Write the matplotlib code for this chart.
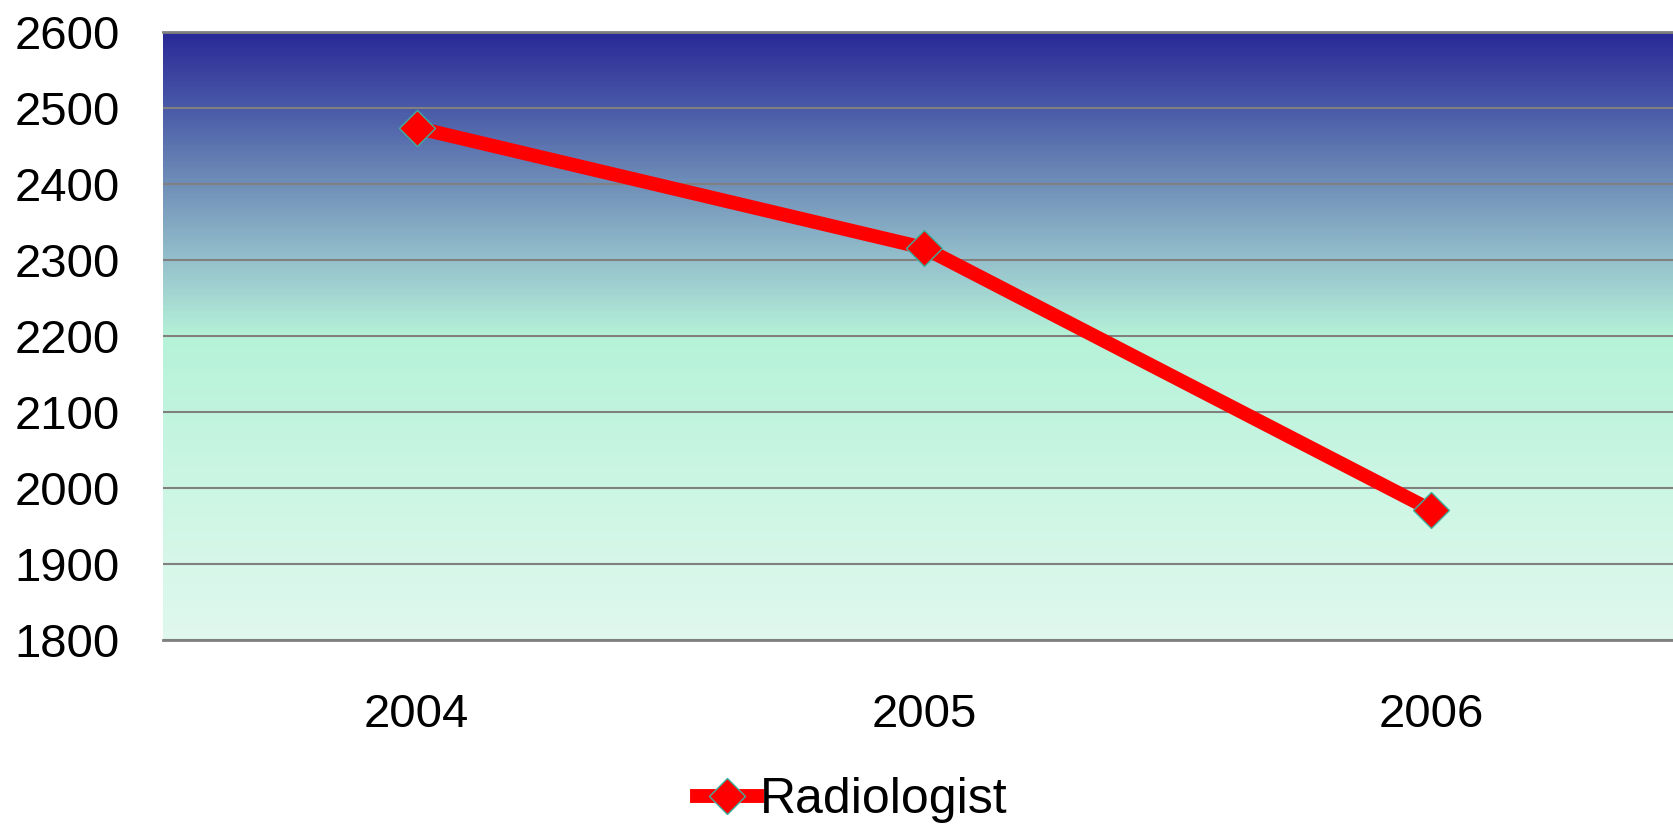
import matplotlib
matplotlib.use("Agg")
import matplotlib.pyplot as plt
import numpy as np
from matplotlib.colors import LinearSegmentedColormap

# chart data
years = ["2004", "2005", "2006"]
radiologist = [2474, 2316, 1971]
y_ticks = [1800, 1900, 2000, 2100, 2200, 2300, 2400, 2500, 2600]

plt.rcParams["font.family"] = ["Liberation Sans", "DejaVu Sans"]

fig = plt.figure(figsize=(16.73, 8.27), dpi=100)
fig.patch.set_facecolor("white")
# plot area runs a little past the right edge, like the original slide
ax = fig.add_axes([163 / 1673, 1 - 640 / 827, (1685 - 163) / 1673, 608 / 827])

# vertical background gradient: dark blue on top, mint below
grad = LinearSegmentedColormap.from_list(
    "bg",
    [(0.0, "#e0f8ee"), (0.25, "#ccf6e4"), (0.5, "#b5f2d8"),
     (0.625, "#95c0cc"), (0.75, "#7090b8"), (0.875, "#4a5aa8"), (1.0, "#2a2a96")],
)
ax.imshow(np.linspace(0, 1, 400).reshape(-1, 1), cmap=grad, origin="lower",
          aspect="auto", extent=(-0.5, 2.5, 1800, 2600), zorder=0)

x = np.arange(len(years))
ax.plot(x, radiologist, color="#ff0000", lw=10, solid_joinstyle="round",
        marker="D", markersize=18, markerfacecolor="#ff0000",
        markeredgecolor="#3cb09c", markeredgewidth=1, label="Radiologist", zorder=3)

ax.set_xlim(-0.5, 2.5)
ax.set_ylim(1800, 2600)
ax.set_yticks(y_ticks)
ax.set_xticks(x)
ax.set_xticklabels(years)
ax.yaxis.grid(True, color="#808080", lw=1.5, zorder=1)
ax.set_axisbelow(False)
for s in ["left", "right"]:
    ax.spines[s].set_visible(False)
ax.spines["top"].set_color("#808080")
ax.spines["bottom"].set_color("#808080")
ax.spines["top"].set_linewidth(2)
ax.spines["bottom"].set_linewidth(2)
ax.tick_params(axis="both", length=0, labelsize=34)
ax.tick_params(axis="y", pad=31)
ax.tick_params(axis="x", pad=38)

leg = fig.legend(loc="center", bbox_to_anchor=(852 / 1673, 1 - 800 / 827),
                 frameon=False, fontsize=36, handlelength=1.2, handletextpad=0.05)

fig.savefig("out.png", dpi=100)
